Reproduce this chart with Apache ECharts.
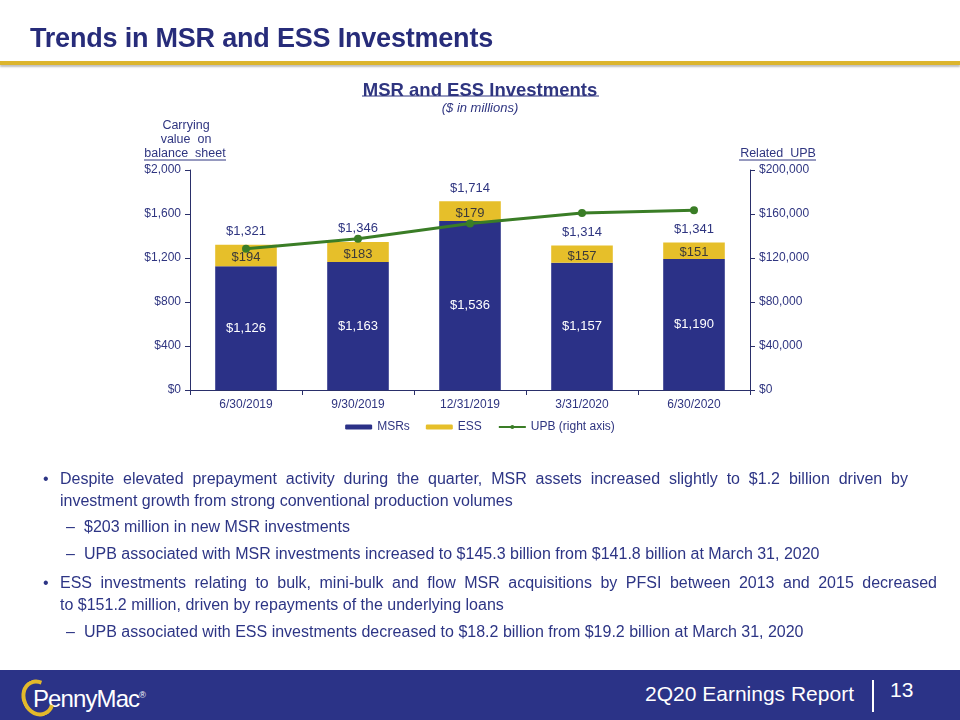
<!DOCTYPE html>
<html>
<head>
<meta charset="utf-8">
<script src="https://cdn.jsdelivr.net/npm/echarts@6/dist/echarts.min.js"></script>
<style>
  html, body { margin:0; padding:0; background:#fff; }
  body { width:960px; height:720px; position:relative; overflow:hidden; font-family:"Liberation Sans", Arial, sans-serif; }
  #chart { position:absolute; left:0; top:0; width:960px; height:720px; }
  .title { position:absolute; left:30px; top:23px; font-size:27px; font-weight:bold; color:#272c7a; letter-spacing:-0.2px; }
  .rule { position:absolute; left:0; top:61px; width:960px; height:4px; background:#dcb52e; box-shadow:0 2px 2px rgba(0,0,0,0.25); }
  .body { position:absolute; left:0; top:468px; width:960px; color:#2d3585; font-size:16px; line-height:22px; }
  .b { position:absolute; left:60px; white-space:nowrap; }
  .j { display:block; text-align:justify; text-align-last:justify; white-space:normal; }
  .bl::before { content:"\2022"; position:absolute; left:-17px; }
  .s { position:absolute; left:84px; width:860px; }
  .s::before { content:"\2013"; position:absolute; left:-18px; }
  .footer { position:absolute; left:0; top:670px; width:960px; height:50px; background:#2b3387; }
  .report { position:absolute; right:106px; top:12px; color:#fff; font-size:21px; }
  .sep { position:absolute; left:872px; top:10px; width:2px; height:32px; background:#fff; }
  .page { position:absolute; left:890px; top:8px; color:#fff; font-size:21px; }
  .logo { position:absolute; left:33px; top:15px; color:#fff; font-size:24px; letter-spacing:-0.9px; }
  .ring { position:absolute; left:-11px; top:-6px; width:24px; height:30px; border-radius:50%; border:4px solid #e3b92b; border-right-color:transparent; transform:rotate(-25deg); }
  .logo sup { font-size:9px; letter-spacing:0; }
</style>
</head>
<body>
<div id="chart"></div>
<div class="title">Trends in MSR and ESS Investments</div>
<div class="rule"></div>
<div class="body">
  <div class="b bl" style="top:0px;"><span class="j" style="width:848px;">Despite elevated prepayment activity during the quarter, MSR assets increased slightly to $1.2 billion driven by</span></div>
  <div class="b" style="top:22px;">investment growth from strong conventional production volumes</div>
  <div class="s" style="top:48px;">$203 million in new MSR investments</div>
  <div class="s" style="top:75px;">UPB associated with MSR investments increased to $145.3 billion from $141.8 billion at March 31, 2020</div>
  <div class="b bl" style="top:104px;"><span class="j" style="width:877px;">ESS investments relating to bulk, mini-bulk and flow MSR acquisitions by PFSI between 2013 and 2015 decreased</span></div>
  <div class="b" style="top:126px;">to $151.2 million, driven by repayments of the underlying loans</div>
  <div class="s" style="top:153px;">UPB associated with ESS investments decreased to $18.2 billion from $19.2 billion at March 31, 2020</div>
</div>
<div class="footer">
  <div class="logo"><span class="ring"></span>PennyMac<sup>®</sup></div>
  <div class="report">2Q20 Earnings Report</div>
  <div class="sep"></div>
  <div class="page">13</div>
</div>
<script>
const categories = ['6/30/2019', '9/30/2019', '12/31/2019', '3/31/2020', '6/30/2020'];
const msrValues = [1126, 1163, 1536, 1157, 1190];
const essValues = [194, 183, 179, 157, 151];
const totalValues = [1321, 1346, 1714, 1314, 1341];
const upbValues = [128500, 137600, 151400, 161000, 163500];
const leftTicks = [0, 400, 800, 1200, 1600, 2000];
const rightTicks = [0, 40000, 80000, 120000, 160000, 200000];

const NAVY = '#2b3187';
const GOLD = '#e6bf2a';
const GREEN = '#3a7d26';
const TXT = '#2f3580';
const money = v => '$' + Number(v).toLocaleString('en-US');

const chart = echarts.init(document.getElementById('chart'));
chart.setOption({
  animation: false,
  textStyle: { fontFamily: '"Liberation Sans", Arial, sans-serif' },
  title: [
    { text: 'MSR and ESS Investments', left: 'center', top: 76,
      textStyle: { fontSize: 18.5, fontWeight: 'bold', color: TXT } },
    { text: '($ in millions)', left: 'center', top: 97,
      textStyle: { fontSize: 13, fontStyle: 'italic', fontWeight: 'normal', color: TXT } }
  ],
  graphic: [
    { type: 'line', shape: { x1: 362, y1: 96, x2: 599, y2: 96 }, style: { stroke: TXT, lineWidth: 1 } },
    { type: 'text', x: 186, y: 119, style: { text: 'Carrying', fontSize: 12.5, fill: TXT, align: 'center' } },
    { type: 'text', x: 186, y: 133, style: { text: 'value  on', fontSize: 12.5, fill: TXT, align: 'center' } },
    { type: 'text', x: 185, y: 147, style: { text: 'balance  sheet', fontSize: 12.5, fill: TXT, align: 'center' } },
    { type: 'line', shape: { x1: 144, y1: 160, x2: 226, y2: 160 }, style: { stroke: TXT, lineWidth: 1 } },
    { type: 'text', x: 778, y: 147, style: { text: 'Related  UPB', fontSize: 12.5, fill: TXT, align: 'center' } },
    { type: 'line', shape: { x1: 739, y1: 160, x2: 816, y2: 160 }, style: { stroke: TXT, lineWidth: 1 } }
  ],
  grid: { left: 190, right: 210, top: 170, bottom: 330 },
  legend: {
    data: ['MSRs', 'ESS', 'UPB (right axis)'],
    left: 'center', top: 416, itemWidth: 27, itemHeight: 5, itemGap: 16,
    textStyle: { fontSize: 12, color: TXT }
  },
  xAxis: {
    type: 'category', data: categories,
    axisLine: { lineStyle: { color: '#2a2f6a' } },
    axisTick: { show: true, length: 5, lineStyle: { color: '#2a2f6a' } },
    axisLabel: { fontSize: 12, color: TXT, margin: 9 }
  },
  yAxis: [
    { type: 'value', min: 0, max: 2000, interval: 400, splitLine: { show: false },
      axisLine: { show: true, lineStyle: { color: '#2a2f6a' } },
      axisTick: { show: true, length: 5, lineStyle: { color: '#2a2f6a' } },
      axisLabel: { fontSize: 12, color: TXT, formatter: money, margin: 9 } },
    { type: 'value', min: 0, max: 200000, interval: 40000, splitLine: { show: false },
      axisLine: { show: true, lineStyle: { color: '#2a2f6a' } },
      axisTick: { show: true, length: 5, lineStyle: { color: '#2a2f6a' } },
      axisLabel: { fontSize: 12, color: TXT, formatter: money, margin: 9 } }
  ],
  series: [
    { name: 'MSRs', type: 'bar', stack: 'a', data: msrValues, barWidth: '55%',
      itemStyle: { color: NAVY },
      label: { show: true, position: 'inside', color: '#fff', fontSize: 13, formatter: p => money(p.value) } },
    { name: 'ESS', type: 'bar', stack: 'a', data: essValues,
      itemStyle: { color: GOLD },
      label: { show: true, position: 'inside', color: '#3c3a3a', fontSize: 13, offset: [0, 2], formatter: p => money(p.value) } },
    { name: 'Totals', type: 'scatter', data: totalValues, symbolSize: 0, silent: true,
      itemStyle: { opacity: 1 },
      label: { show: true, position: 'top', distance: 7, color: TXT, opacity: 1, fontSize: 13, formatter: p => money(p.value) } },
    { name: 'UPB (right axis)', type: 'line', yAxisIndex: 1, data: upbValues,
      symbol: 'circle', symbolSize: 8, itemStyle: { color: GREEN },
      lineStyle: { color: GREEN, width: 3 }, z: 5 }
  ]
});
</script>
</body>
</html>
